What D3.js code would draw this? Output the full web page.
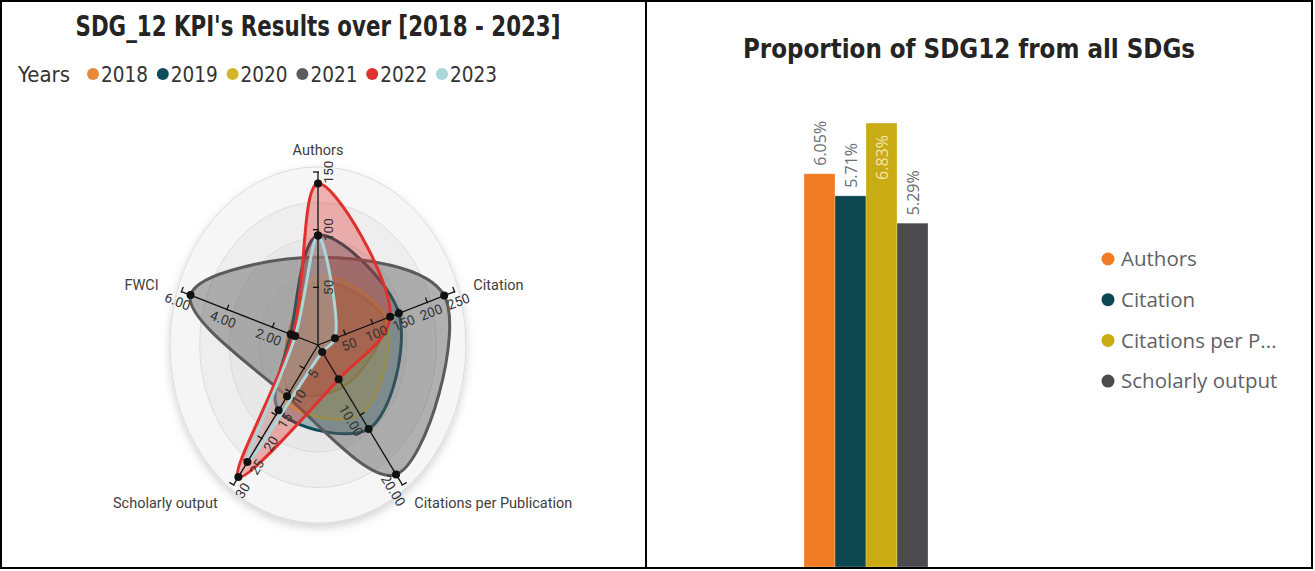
<!DOCTYPE html>
<html>
<head>
<meta charset="utf-8">
<script src="https://cdn.jsdelivr.net/npm/d3@7"></script>
<style>
  body { margin: 0; background: #fff; }
  svg { display: block; }
</style>
</head>
<body>
<svg id="chart" width="1315" height="571"></svg>
<script>
// ---- radar data (one value per year on each axis)
const axes = ["Authors", "Citation", "Citations per Publication", "Scholarly output", "FWCI"];
const axisMax = [150, 250, 20, 30, 6];
const axisTicks = [[50, 100, 150], [50, 100, 150, 200, 250], [10, 20], [5, 10, 15, 20, 25, 30], [2, 4, 6]];
const tickFormats = ["d", "d", ".2f", "d", ".2f"];
const years = ["2018", "2019", "2020", "2021", "2022", "2023"];
const yearColors = ["#e8893a", "#0f4c5c", "#d4b52a", "#5b5b5b", "#e0312e", "#a9d6d9"];
const authors = [55, 95, 60, 76, 140, 95];
const citation = [120, 148, 125, 231, 132, 31];
const citPerPub = [6, 12, 10, 18.5, 4.9, 1];
const scholarly = [10, 14, 12, 11, 28.3, 25.1];
const fwci = [1.3, 1.2, 1.1, 5.6, 1.1, 1.0];
const dotYears = ["2019", "2022", "2023"];

// ---- bar data
const barCats = ["Authors", "Citation", "Citations per Publication", "Scholarly output"];
const barValues = [6.05, 5.71, 6.83, 5.29];
const barColors = ["#f07b24", "#0c4750", "#c9ab14", "#4b4b4d"];

const svg = d3.select("#chart");

// panels
svg.append("rect").attr("x", 1).attr("y", 1).attr("width", 645).attr("height", 567)
  .attr("fill", "#fff");
svg.append("rect").attr("x", 646).attr("y", 1).attr("width", 666).attr("height", 567)
  .attr("fill", "#fff");

const defs = svg.append("defs");
defs.append("filter").attr("id", "shadow").attr("x", "-20%").attr("y", "-20%")
  .attr("width", "140%").attr("height", "140%")
  .append("feDropShadow").attr("dx", 0).attr("dy", 4).attr("stdDeviation", 5)
  .attr("flood-color", "#000").attr("flood-opacity", 0.18);
defs.append("clipPath").attr("id", "rightClip")
  .append("rect").attr("x", 647).attr("y", 2).attr("width", 664).attr("height", 565);

// ================= LEFT: radar =================
const cx = 318, cy = 345, R = 173, sx = 0.83;
const angle = i => (-90 + 72 * i) * Math.PI / 180;
const rScales = axisMax.map(m => d3.scaleLinear().domain([0, m]).range([0, R]));
const pt = (i, v) => [cx + sx * rScales[i](v) * Math.cos(angle(i)), cy + rScales[i](v) * Math.sin(angle(i))];

svg.append("text")
  .attr("x", 318).attr("y", 36)
  .attr("text-anchor", "middle")
  .attr("textLength", 485).attr("lengthAdjust", "spacingAndGlyphs")
  .style("font-family", "'DejaVu Sans Condensed', 'DejaVu Sans', sans-serif")
  .style("font-weight", "bold").style("font-size", "29px").style("fill", "#252423")
  .text("SDG_12 KPI's Results over [2018 - 2023]");

// legend
const legend = svg.append("g");
legend.append("text").attr("x", 18).attr("y", 82)
  .attr("textLength", 52).attr("lengthAdjust", "spacingAndGlyphs")
  .style("font-family", "'DejaVu Sans Condensed', 'DejaVu Sans', sans-serif")
  .style("font-size", "21px").style("fill", "#333")
  .text("Years");
const items = legend.selectAll("g.item").data(years).enter().append("g")
  .attr("transform", (d, j) => `translate(${93 + j * 69.8},74)`);
items.append("circle").attr("r", 6).attr("fill", (d, j) => yearColors[j]);
items.append("text").attr("x", 8).attr("y", 8)
  .attr("textLength", 47).attr("lengthAdjust", "spacingAndGlyphs")
  .style("font-family", "'DejaVu Sans Condensed', 'DejaVu Sans', sans-serif")
  .style("font-size", "21px").style("fill", "#333")
  .text(d => d);

// background rings
const ringLevels = [1, 0.8, 0.6, 0.4, 0.2];
const ringFills = ["#f6f6f6", "#eeeeee", "#e8e8e8", "#e3e3e3", "#dedede"];
const grid = svg.append("g");
grid.selectAll("ellipse").data(ringLevels).enter().append("ellipse")
  .attr("cx", cx).attr("cy", cy)
  .attr("rx", d => sx * R * 1.03 * d).attr("ry", d => R * 1.03 * d)
  .attr("fill", (d, k) => ringFills[k])
  .attr("stroke", "#d6d6d6").attr("stroke-width", 0.8)
  .attr("filter", (d, k) => k === 0 ? "url(#shadow)" : null);

// series
const seriesValues = years.map((y, j) => [authors[j], citation[j], citPerPub[j], scholarly[j], fwci[j]]);
const strokeW = [2, 3, 2, 3, 3, 3];
const fillOp = [0.35, 0.35, 0.35, 0.45, 0.35, 0.3];
const line = d3.line().curve(d3.curveCatmullRomClosed.alpha(0.5));

const shapes = svg.append("g");
shapes.selectAll("path").data(seriesValues).enter().append("path")
  .attr("d", vals => line(vals.map((v, i) => pt(i, v))))
  .attr("fill", (d, j) => yearColors[j])
  .attr("fill-opacity", (d, j) => fillOp[j])
  .attr("stroke", (d, j) => yearColors[j])
  .attr("stroke-width", (d, j) => strokeW[j])
  .attr("stroke-linejoin", "round");

// axes with ticks
const axisG = svg.append("g");
axes.forEach((name, i) => {
  const end = pt(i, axisMax[i]);
  const dx = end[0] - cx, dy = end[1] - cy, len = Math.hypot(dx, dy);
  const ux = dx / len, uy = dy / len;
  axisG.append("line").attr("x1", cx).attr("y1", cy).attr("x2", end[0]).attr("y2", end[1])
    .attr("stroke", "#111").attr("stroke-width", 1.3);
  let rot = Math.atan2(uy, ux) * 180 / Math.PI;
  if (rot > 90) rot -= 180;
  if (rot < -90) rot += 180;
  const rr = rot * Math.PI / 180;
  const downX = -Math.sin(rr), downY = Math.cos(rr);
  const fmt = d3.format(tickFormats[i]);
  axisTicks[i].forEach(t => {
    const p = pt(i, t);
    axisG.append("line")
      .attr("x1", p[0] - downX * 5).attr("y1", p[1] - downY * 5)
      .attr("x2", p[0] + downX * 1).attr("y2", p[1] + downY * 1)
      .attr("stroke", "#111").attr("stroke-width", 1.3);
    axisG.append("text")
      .attr("transform", `translate(${p[0] + downX * 5},${p[1] + downY * 5}) rotate(${rot})`)
      .attr("text-anchor", "middle").attr("dominant-baseline", "hanging")
      .style("font-family", "Roboto, 'Open Sans', sans-serif")
      .style("font-size", "13.5px").style("fill", "#333")
      .text(fmt(t));
  });
  // axis name
  const lp = pt(i, axisMax[i] * 1.13);
  const anchor = Math.abs(lp[0] - cx) < 5 ? "middle" : (lp[0] > cx ? "start" : "end");
  axisG.append("text")
    .attr("x", lp[0] + (anchor === "start" ? 1 : anchor === "end" ? -5 : 0)).attr("y", lp[1])
    .attr("dy", "0.35em").attr("text-anchor", anchor)
    .style("font-family", "Roboto, 'Open Sans', sans-serif")
    .style("font-size", "14.5px").style("fill", "#404040")
    .text(name);
});

// dots
const dots = svg.append("g");
years.forEach((y, j) => {
  if (!dotYears.includes(y)) return;
  seriesValues[j].forEach((v, i) => {
    const p = pt(i, v);
    dots.append("circle").attr("cx", p[0]).attr("cy", p[1]).attr("r", 4).attr("fill", "#111");
  });
});
// 2021 outer points also carry dots (its Authors point sits hidden under the curve)
seriesValues[3].forEach((v, i) => {
  if (i === 0) return;
  const p = pt(i, v);
  dots.append("circle").attr("cx", p[0]).attr("cy", p[1]).attr("r", 4).attr("fill", "#111");
});

// ================= RIGHT: bars =================
svg.append("text")
  .attr("x", 969).attr("y", 58)
  .attr("text-anchor", "middle")
  .attr("textLength", 452).attr("lengthAdjust", "spacingAndGlyphs")
  .style("font-family", "'DejaVu Sans Condensed', 'DejaVu Sans', sans-serif")
  .style("font-weight", "bold").style("font-size", "27px").style("fill", "#252423")
  .text("Proportion of SDG12 from all SDGs");

const xBand = d3.scaleBand().domain(barCats).range([804, 928]);
const yBar = d3.scaleLinear().domain([0, 7]).range([567, 112]);

const bars = svg.append("g").attr("clip-path", "url(#rightClip)");
bars.selectAll("rect").data(barValues).enter().append("rect")
  .attr("x", (d, j) => xBand(barCats[j]))
  .attr("y", d => yBar(d))
  .attr("width", xBand.bandwidth())
  .attr("height", d => yBar(0) - yBar(d))
  .attr("fill", (d, j) => barColors[j])
  .attr("stroke", "#fff").attr("stroke-opacity", 0.35).attr("stroke-width", 0.8);

const maxVal = d3.max(barValues);
bars.selectAll("text.lbl").data(barValues).enter().append("text")
  .attr("class", "lbl")
  .attr("transform", (d, j) => {
    const x = xBand(barCats[j]) + xBand.bandwidth() / 2 + 6;
    const y = d === maxVal ? yBar(d) + 12 : yBar(d) - 8;
    return `translate(${x},${y}) rotate(-90)`;
  })
  .attr("text-anchor", d => d === maxVal ? "end" : "start")
  .style("font-family", "'Open Sans', sans-serif")
  .style("font-size", "16px")
  .style("fill", d => d === maxVal ? "#f3e7b0" : "#6b6e74")
  .text(d => d3.format(".2f")(d) + "%");

// legend right
const legendLabels = barCats.map(c => c.length > 17 ? c.slice(0, 15) + "..." : c);
const rl = svg.append("g");
const rItems = rl.selectAll("g").data(legendLabels).enter().append("g")
  .attr("transform", (d, j) => `translate(1108,${259 + j * 40.7})`);
rItems.append("circle").attr("r", 6.5).attr("fill", (d, j) => barColors[j]);
rItems.append("text").attr("x", 13).attr("y", 0).attr("dy", "0.36em")
  .style("font-family", "'Open Sans', sans-serif")
  .style("font-size", "20.5px").style("fill", "#5f6166")
  .text(d => d);

// borders
svg.append("rect").attr("x", 1).attr("y", 1).attr("width", 645).attr("height", 567)
  .attr("fill", "none").attr("stroke", "#000").attr("stroke-width", 2);
svg.append("rect").attr("x", 646).attr("y", 1).attr("width", 666).attr("height", 567)
  .attr("fill", "none").attr("stroke", "#000").attr("stroke-width", 2);
</script>
</body>
</html>
